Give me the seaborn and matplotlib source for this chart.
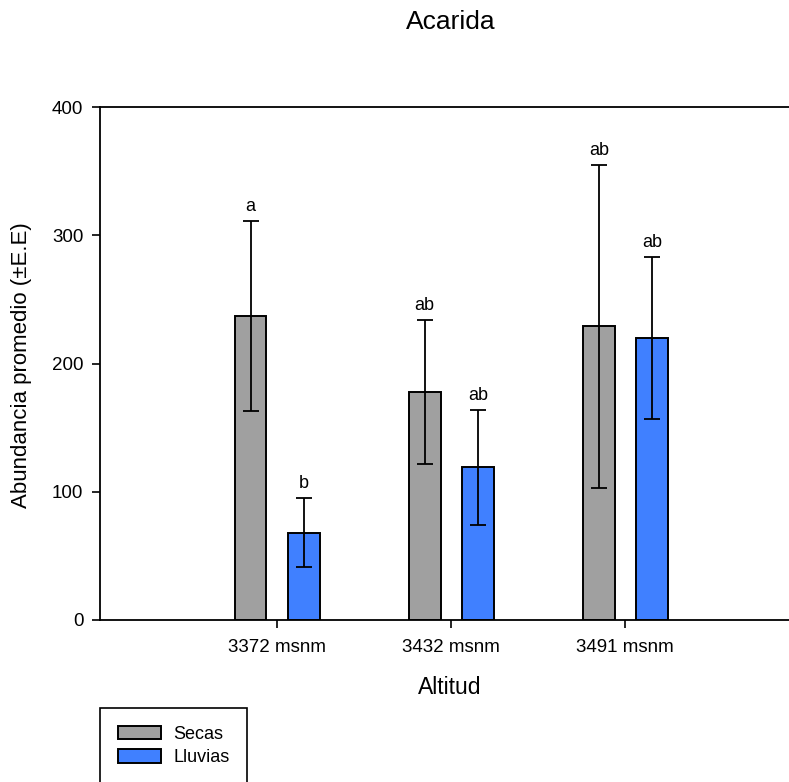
import matplotlib
matplotlib.use("Agg")
import matplotlib.pyplot as plt
from matplotlib.patches import Patch
import pandas as pd
import seaborn as sns

# Mean abundance of Acarida per altitude and season, with standard errors
altitudes = ["3372 msnm", "3432 msnm", "3491 msnm"]
seasons = ["Secas", "Lluvias"]
secas_mean = [237, 178, 229]
secas_se = [74, 56, 126]
lluvias_mean = [68, 119, 220]
lluvias_se = [27, 45, 63]
secas_letters = ["a", "ab", "ab"]
lluvias_letters = ["b", "ab", "ab"]

colors = {"Secas": "#a0a0a0", "Lluvias": "#4080ff"}

df = pd.DataFrame({
    "Altitud": altitudes * 2,
    "Temporada": ["Secas"] * 3 + ["Lluvias"] * 3,
    "Abundancia": secas_mean + lluvias_mean,
})

sns.set_style("white")
plt.rcParams["font.family"] = ["Liberation Sans", "DejaVu Sans"]
plt.rcParams["text.color"] = "black"
plt.rcParams["axes.labelcolor"] = "black"
plt.rcParams["xtick.color"] = "black"
plt.rcParams["ytick.color"] = "black"

W, H = 789, 782
fig = plt.figure(figsize=(W / 100, H / 100), dpi=100)
ax = fig.add_axes([100 / W, 1 - 620 / H, 689 / W, 513 / H])

sns.barplot(data=df, x="Altitud", y="Abundancia", hue="Temporada",
            hue_order=seasons, order=altitudes, palette=colors,
            width=0.61, gap=0.4, errorbar=None, legend=False,
            edgecolor="black", linewidth=1.4, saturation=1, ax=ax)

means = {"Secas": secas_mean, "Lluvias": lluvias_mean}
ses = {"Secas": secas_se, "Lluvias": lluvias_se}
letters = {"Secas": secas_letters, "Lluvias": lluvias_letters}
for season, cont in zip(seasons, ax.containers):
    for bar, m, s, lab in zip(cont, means[season], ses[season], letters[season]):
        xc = bar.get_x() + bar.get_width() / 2
        ax.errorbar(xc, m, yerr=s, fmt="none", ecolor="black",
                    elinewidth=1.3, capsize=6, capthick=1.3, zorder=5)
        ax.annotate(lab, (xc, m + s), xytext=(0, 7), textcoords="offset points",
                    ha="center", va="baseline", fontsize=13, color="black")

ax.set_ylim(0, 400)
ax.set_xlim(-1.017, 2.94)
ax.set_yticks([0, 100, 200, 300, 400])
ax.tick_params(axis="both", direction="out", length=6, width=1.2,
               labelsize=13.5, color="black", labelcolor="black",
               left=True, bottom=True)
ax.tick_params(axis="x", pad=8)
ax.tick_params(axis="y", pad=6)
for side in ["left", "top", "bottom"]:
    ax.spines[side].set_visible(True)
    ax.spines[side].set_color("black")
    ax.spines[side].set_linewidth(1.3)
ax.spines["right"].set_visible(False)
ax.set_xlabel("")
ax.set_ylabel("")

fig.text(451 / W, 1 - 22 / H, "Acarida", ha="center", va="center", fontsize=19)
fig.text(22 / W, 1 - 365 / H, "Abundancia promedio (±E.E)", rotation=90,
         ha="center", va="center", fontsize=16)
fig.text(450 / W, 1 - 688 / H, "Altitud", ha="center", va="center", fontsize=16.5)

handles = [Patch(facecolor=colors[s], edgecolor="black", linewidth=1.4) for s in seasons]
leg = fig.legend(handles, seasons, loc="upper left",
                 bbox_to_anchor=(100 / W, 1 - 708 / H), fontsize=13,
                 frameon=True, fancybox=False, framealpha=1, borderpad=1.0,
                 handlelength=2.4, handleheight=0.75, handletextpad=0.65,
                 labelspacing=0.35, borderaxespad=0)
leg.get_frame().set_edgecolor("black")
leg.get_frame().set_linewidth(1.2)

fig.savefig("out.png", dpi=100)
